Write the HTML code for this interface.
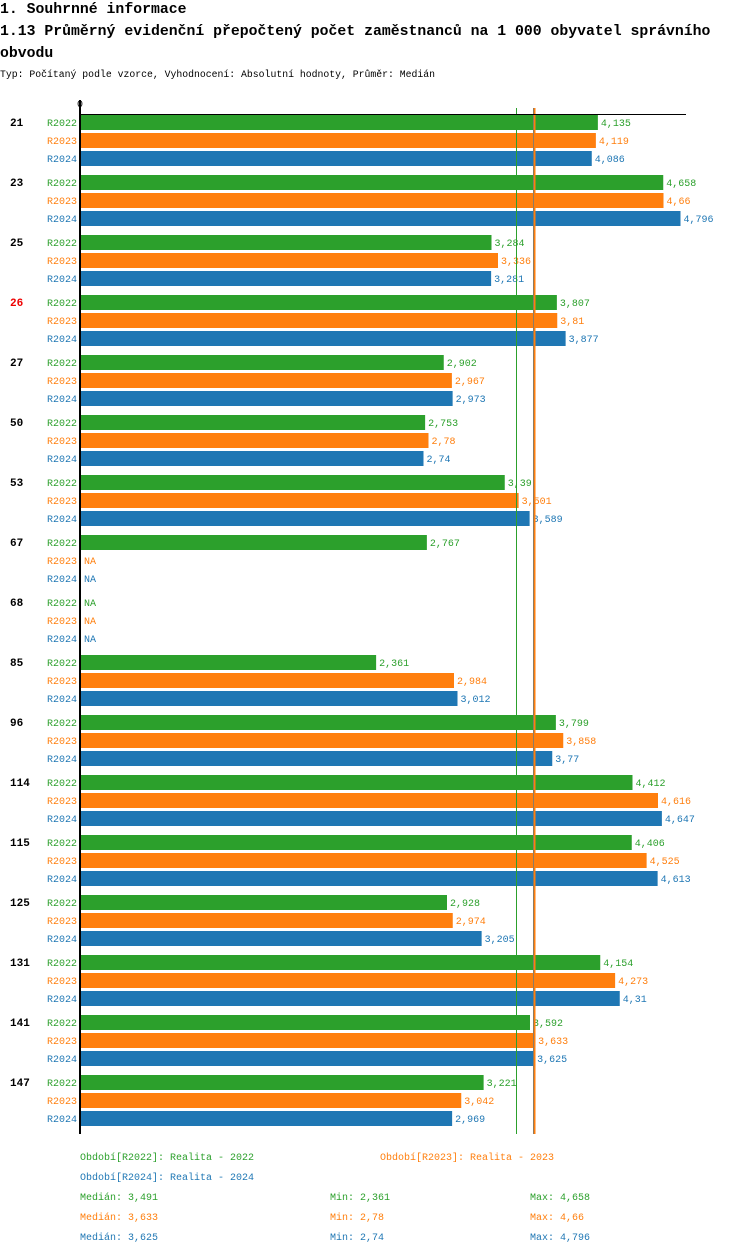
<!DOCTYPE html>
<html><head><meta charset="utf-8"><style>
body{margin:0;background:#fff;}
svg{display:block;font-family:"Liberation Mono",monospace;}
</style></head><body>
<svg id="c" width="750" height="1254">
<text x="0" y="13" font-size="14.8" font-weight="bold" fill="#000">1. Souhrnné informace</text>
<text x="0" y="35" font-size="14.8" font-weight="bold" fill="#000">1.13 Průměrný evidenční přepočtený počet zaměstnanců na 1 000 obyvatel správního</text>
<text x="0" y="57" font-size="14.8" font-weight="bold" fill="#000">obvodu</text>
<text x="0" y="77" font-size="9.8" fill="#000">Typ: Počítaný podle vzorce, Vyhodnocení: Absolutní hodnoty, Průměr: Medián</text>
<text x="77" y="107" font-size="10" fill="#000">0</text>
</svg>
<script>
const categories=["21","23","25","26","27","50","53","67","68","85","96","114","115","125","131","141","147"];
const r2022=[4.135,4.658,3.284,3.807,2.902,2.753,3.39,2.767,null,2.361,3.799,4.412,4.406,2.928,4.154,3.592,3.221];
const r2023=[4.119,4.66,3.336,3.81,2.967,2.78,3.501,null,null,2.984,3.858,4.616,4.525,2.974,4.273,3.633,3.042];
const r2024=[4.086,4.796,3.281,3.877,2.973,2.74,3.589,null,null,3.012,3.77,4.647,4.613,3.205,4.31,3.625,2.969];
const seriesNames=["R2022","R2023","R2024"];
const medians=[3.491,3.633,3.625];
const mins=[2.361,2.78,2.74];
const maxs=[4.658,4.66,4.796];
const colors=["#2ca02c","#ff7f0e","#1f77b4"];
const NS="http://www.w3.org/2000/svg";
const svg=document.getElementById('c');
const X0=81,SC=125;
const xs=v=>X0+v*SC;
const gy=i=>114+i*60;
function el(t,a,txt){const e=document.createElementNS(NS,t);for(const k in a)e.setAttribute(k,a[k]);if(txt!=null)e.textContent=txt;svg.appendChild(e);return e;}
const fmt=v=>String(v).replace('.',',');
const series=[r2022,r2023,r2024];
const bottom=gy(categories.length)+1;
categories.forEach((c,i)=>{
  const t=el('text',{x:10,y:gy(i)+12,'font-size':11,'font-weight':'bold',fill:c==="26"?"#e00":"#000"},c);
  
  
  series.forEach((s,j)=>{
    const y=gy(i)+1+j*18;
    const l=el('text',{x:47,y:y+11,'font-size':10,fill:colors[j]},seriesNames[j]);
    
    
    const v=s[i];
    if(v==null){
      const n=el('text',{x:X0+3,y:y+11,'font-size':10,fill:colors[j]},'NA');
      
      
      return;
    }
    const r=el('rect',{x:X0,y:y,width:xs(v)-X0,height:15,fill:colors[j]});
    
    
    const vt=el('text',{x:xs(v)+3,y:y+11,'font-size':10,fill:colors[j]},fmt(v));
    
    
  });
});
[2,0,1].forEach(j=>{
  const m=medians[j];
  const x=Math.round(xs(m))-0.5;
  const ln=el('line',{x1:x,x2:x,y1:108,y2:bottom-1,stroke:colors[j],'stroke-width':j==1?2:1});
  
  
});
const ax=el('line',{x1:80,x2:686,y1:114.5,y2:114.5,stroke:'#000','stroke-width':1});


const ay=el('line',{x1:80,x2:80,y1:100,y2:bottom-1,stroke:'#000','stroke-width':2});


const legs=[[80,1160,0,'Období[R2022]: Realita - 2022'],[380,1160,1,'Období[R2023]: Realita - 2023'],[80,1180,2,'Období[R2024]: Realita - 2024']];
legs.forEach(g=>{
  const t=el('text',{x:g[0],y:g[1],'font-size':10,fill:colors[g[2]]},g[3]);
  
  
});
seriesNames.forEach((n,j)=>{
  const y=1200+j*20;
  const a=el('text',{x:80,y:y,'font-size':10,fill:colors[j]},'Medián: '+fmt(medians[j]));
  
  
  const b=el('text',{x:330,y:y,'font-size':10,fill:colors[j]},'Min: '+fmt(mins[j]));
  
  
  const d=el('text',{x:530,y:y,'font-size':10,fill:colors[j]},'Max: '+fmt(maxs[j]));
  
  
});
</script>
</body></html>
